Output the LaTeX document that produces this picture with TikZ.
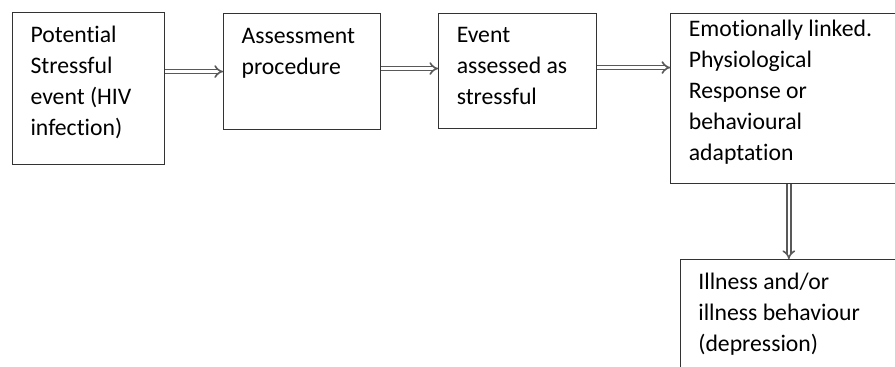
\documentclass[tikz,border=0pt]{standalone}
\usepackage{fontspec}
\setmainfont{Carlito}[Ligatures=NoCommon]
\usetikzlibrary{positioning, arrows.meta}

\tikzset{
  stage/.style={draw=black!80, line width=1.1pt, align=flush left, anchor=north west,
                inner xsep=18pt, inner ysep=0pt,
                font=\fontsize{23.7}{31}\selectfont},
  link/.style={double=white, double distance=2.6pt, line width=1.6pt,
               draw=black!65, -{Implies[scale=1.2]}}
}

\begin{document}
\begin{tikzpicture}
        \useasboundingbox (0,0) rectangle (895pt,367pt);
        \node[stage,
              text width=116pt,
              text height=30pt,
              text depth=122pt] (event) at (12pt,355pt)
              {Potential\\ Stressful\\ event (HIV\\ infection)};
        \node[stage,
              right=58pt of event.north east,
              anchor=north west,
              yshift=-1pt,
              text width=121pt,
              text height=30pt,
              text depth=86pt] (assess)
              {Assessment\\ procedure};
        \node[stage,
              right=57pt of assess.north east,
              anchor=north west,
              text width=122pt,
              text height=29pt,
              text depth=86pt] (stressed)
              {Event\\ assessed as\\ stressful};
        \node[stage,
              right=73pt of stressed.north east,
              anchor=north west,
              text width=200pt,
              text height=23pt,
              text depth=147pt] (response)
              {Emotionally linked.\\ Physiological\\ Response or\\ behavioural\\ adaptation};
        \node[stage,
              below=75pt of response.south,
              anchor=north,
              text width=181pt,
              text height=30pt,
              text depth=95pt] (illness)
              {Illness and/or\\ illness behaviour\\ (depression)};
        % double arrows between the stages
        \draw[link] (event.east |- assess.west) -- (assess.west);
        \draw[link] ([yshift=3pt]assess.east) -- ([yshift=3pt]assess.east -| stressed.west);
        \draw[link] ([yshift=3.5pt]stressed.east) -- ([yshift=3.5pt]stressed.east -| response.west);
        \draw[link] (response.south) -- (illness.north);
\end{tikzpicture}
\end{document}
